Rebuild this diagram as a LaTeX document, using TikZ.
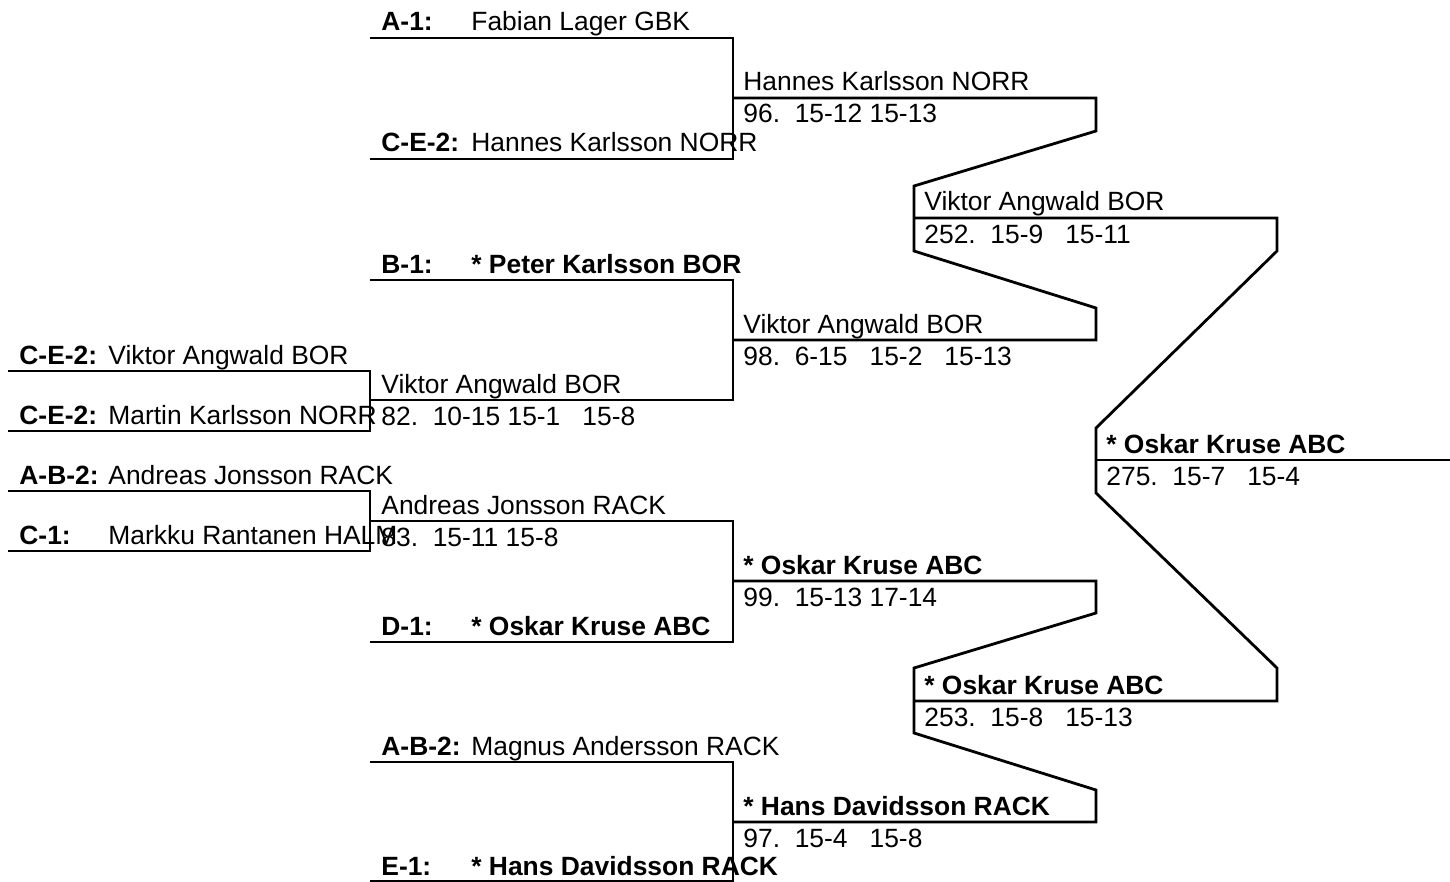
\documentclass[tikz,border=0pt]{standalone}
\usepackage{fontspec}
\setmainfont{Liberation Sans}
\begin{document}
\begin{tikzpicture}[x=0.5pt,y=-0.5pt,line width=1.4pt,
    every node/.style={anchor=base west,inner sep=0pt,font=\fontsize{13.2}{15}\selectfont},
    lbl/.style={font=\fontsize{13.2}{15}\selectfont\bfseries},
    seeded/.style={font=\fontsize{13.2}{15}\selectfont\bfseries}]
  \useasboundingbox (0,0) rectangle (1450,882);
  % left end of every line
  \coordinate (c1) at (8,371);
  \coordinate (c2) at (8,431);
  \coordinate (c3) at (8,491);
  \coordinate (c4) at (8,551);
  \coordinate (b1) at (370,38);
  \coordinate (b2) at (370,159);
  \coordinate (b3) at (370,280);
  \coordinate (b4) at (370,400);
  \coordinate (b5) at (370,521);
  \coordinate (b6) at (370,642);
  \coordinate (b7) at (370,762);
  \coordinate (b8) at (370,881);
  \coordinate (q1) at (733,98);
  \coordinate (q2) at (733,340);
  \coordinate (q3) at (733,581);
  \coordinate (q4) at (733,822);
  \coordinate (s1) at (914,218);
  \coordinate (s2) at (914,701);
  \coordinate (fin) at (1096,460);

  % first round
  \node[lbl] (c1-l) at ([shift={(10,-7)}]c1) {C-E-2:};
  \node (c1-p) at ([shift={(99,-7)}]c1) {Viktor Angwald BOR};
  \node[lbl] (c2-l) at ([shift={(10,-7)}]c2) {C-E-2:};
  \node (c2-p) at ([shift={(99,-7)}]c2) {Martin Karlsson NORR};
  \node[lbl] (c3-l) at ([shift={(10,-7)}]c3) {A-B-2:};
  \node (c3-p) at ([shift={(99,-7)}]c3) {Andreas Jonsson RACK};
  \node[lbl] (c4-l) at ([shift={(10,-7)}]c4) {C-1:};
  \node (c4-p) at ([shift={(99,-7)}]c4) {Markku Rantanen HALM};
  \draw (c1) -- ++(362,0) |- (c2);
  \draw (c3) -- ++(362,0) |- (c4);

  % second round
  \node[lbl] (b1-l) at ([shift={(10,-7)}]b1) {A-1:};
  \node (b1-p) at ([shift={(100,-7)}]b1) {Fabian Lager GBK};
  \node[lbl] (b2-l) at ([shift={(10,-7)}]b2) {C-E-2:};
  \node (b2-p) at ([shift={(100,-7)}]b2) {Hannes Karlsson NORR};
  \node[lbl] (b3-l) at ([shift={(10,-7)}]b3) {B-1:};
  \node[seeded] (b3-p) at ([shift={(100,-7)}]b3) {* Peter Karlsson BOR};
  \node (b4-p) at ([shift={(10,-7)}]b4) {Viktor Angwald BOR};
  \node (b4-s) at ([shift={(10,25)}]b4) {82.~~10-15 15-1~~~15-8};
  \node (b5-p) at ([shift={(10,-7)}]b5) {Andreas Jonsson RACK};
  \node (b5-s) at ([shift={(10,25)}]b5) {83.~~15-11 15-8};
  \node[lbl] (b6-l) at ([shift={(10,-7)}]b6) {D-1:};
  \node[seeded] (b6-p) at ([shift={(100,-7)}]b6) {* Oskar Kruse ABC};
  \node[lbl] (b7-l) at ([shift={(10,-7)}]b7) {A-B-2:};
  \node (b7-p) at ([shift={(100,-7)}]b7) {Magnus Andersson RACK};
  \node[lbl] (b8-l) at ([shift={(10,-6)}]b8) {E-1:};
  \node[seeded] (b8-p) at ([shift={(100,-6)}]b8) {* Hans Davidsson RACK};
  \draw (b1) -- ++(363,0) |- (b2);
  \draw (b3) -- ++(363,0) |- (b4);
  \draw (b5) -- ++(363,0) |- (b6);
  \draw (b7) -- ++(363,0) |- (b8);

  % quarter finals
  \node (q1-p) at ([shift={(9,-7)}]q1) {Hannes Karlsson NORR};
  \node (q1-s) at ([shift={(9,25)}]q1) {96.~~15-12 15-13};
  \node (q2-p) at ([shift={(9,-7)}]q2) {Viktor Angwald BOR};
  \node (q2-s) at ([shift={(9,25)}]q2) {98.~~6-15~~~15-2~~~15-13};
  \node[seeded] (q3-p) at ([shift={(9,-7)}]q3) {* Oskar Kruse ABC};
  \node (q3-s) at ([shift={(9,25)}]q3) {99.~~15-13 17-14};
  \node[seeded] (q4-p) at ([shift={(9,-7)}]q4) {* Hans Davidsson RACK};
  \node (q4-s) at ([shift={(9,25)}]q4) {97.~~15-4~~~15-8};

  % semi finals
  \node (s1-p) at ([shift={(9,-7)}]s1) {Viktor Angwald BOR};
  \node (s1-s) at ([shift={(9,25)}]s1) {252.~~15-9~~~15-11};
  \node[seeded] (s2-p) at ([shift={(9,-7)}]s2) {* Oskar Kruse ABC};
  \node (s2-s) at ([shift={(9,25)}]s2) {253.~~15-8~~~15-13};
  \draw (q1) -- ++(363,0) -- ++(0,33) -- ([shift={(0,-32)}]s1)
    -- ([shift={(0,33)}]s1) -- ([shift={(363,-32)}]q2) -- ++(0,32) -- (q2);
  \draw (q3) -- ++(363,0) -- ++(0,32) -- ([shift={(0,-33)}]s2)
    -- ([shift={(0,32)}]s2) -- ([shift={(363,-32)}]q4) -- ++(0,32) -- (q4);

  % final
  \node[seeded] (fin-p) at ([shift={(9,-7)}]fin) {* Oskar Kruse ABC};
  \node (fin-s) at ([shift={(9,25)}]fin) {275.~~15-7~~~15-4};
  \draw (s1) -- ++(363,0) -- ++(0,33) -- ([shift={(0,-32)}]fin)
    -- ([shift={(0,33)}]fin) -- ([shift={(363,-33)}]s2) -- ++(0,33) -- (s2);
  \draw (fin) -- ++(354,0);
\end{tikzpicture}
\end{document}
